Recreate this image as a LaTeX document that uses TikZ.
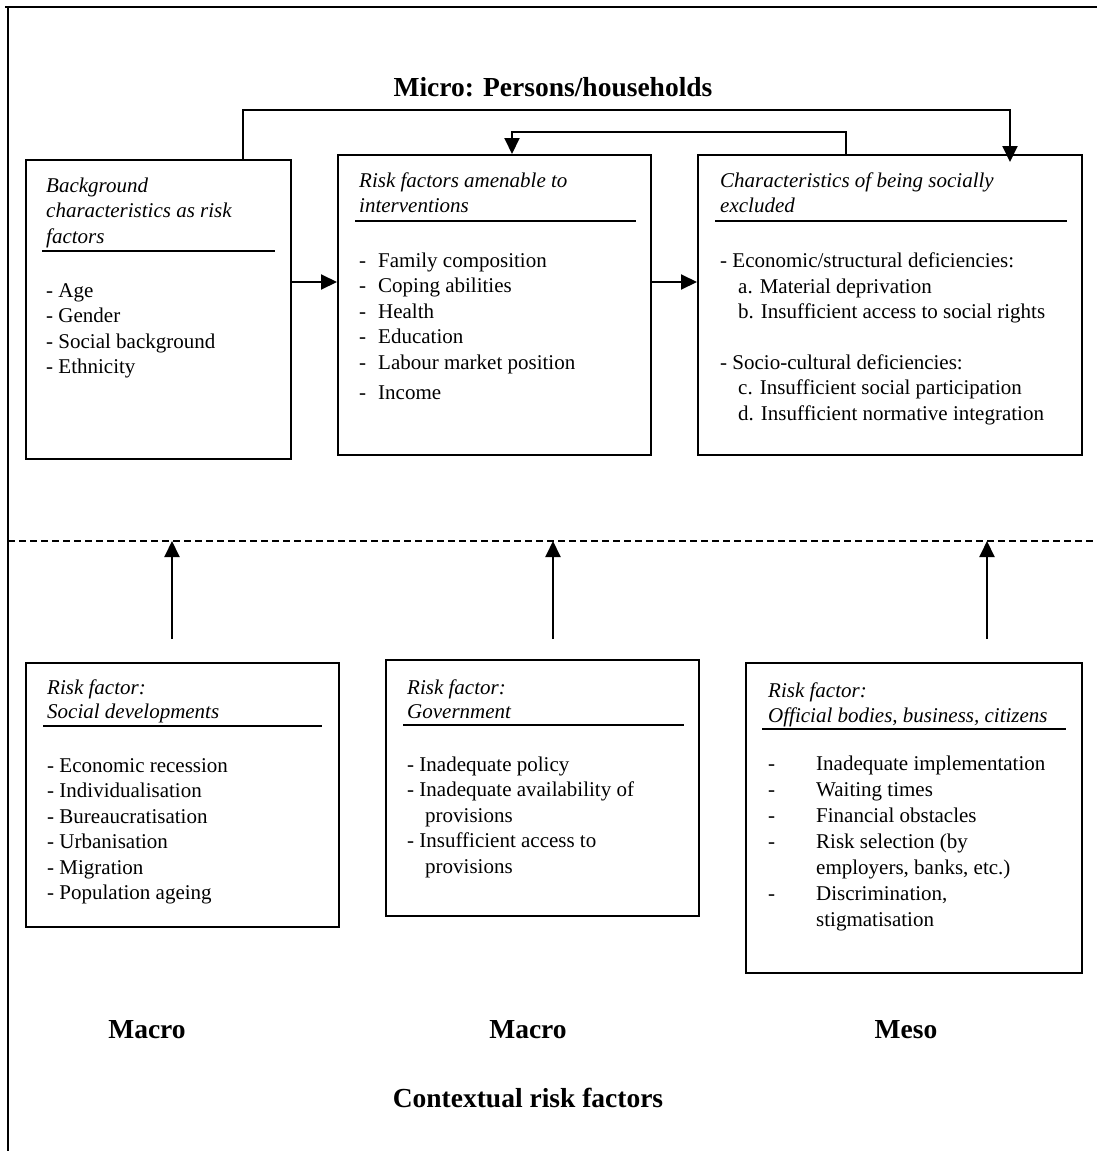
\documentclass[tikz,border=0pt]{standalone}
\usepackage{fontspec}
\setmainfont{Liberation Serif}
\usetikzlibrary{arrows.meta}
\begin{document}
\begin{tikzpicture}[x=1pt,y=-1pt,
  box/.style={draw,line width=2pt,inner sep=0pt},
  txt/.style={anchor=mid west,inner sep=0pt,yshift=-5pt,font=\fontsize{21}{25}\selectfont},
  ttl/.style={anchor=mid west,inner sep=0pt,yshift=-5pt,font=\fontsize{21}{25}\selectfont\itshape},
  hd/.style={anchor=center,inner sep=0pt,font=\fontsize{27.5}{32}\selectfont\bfseries},
  arr/.style={line width=2pt,-{Triangle[length=16pt,width=15pt]}},
  uline/.style={line width=2pt},
  frameline/.style={line width=2.4pt},
]
\useasboundingbox (0,0) rectangle (1097,1151);
% frame
\coordinate (fr1) at (5,7);
\coordinate (fr2) at (1097,7);
\coordinate (fr3) at (8,7);
\coordinate (fr4) at (8,1151);
\draw[frameline] (fr1) -- (fr2);
\draw[frameline] (fr3) -- (fr4);
% dashed separator
\coordinate (dl1) at (8,541);
\coordinate (dl2) at (1093,541);
\draw[line width=2.2pt,dash pattern=on 7pt off 4pt] (dl1) -- (dl2);

% heading
\node[hd] (micro) at (553,87) {Micro: Persons/households};

% boxes (top)
\node[box,minimum width=265pt,minimum height=299pt] (b1) at (158.5,309.5) {};
\node[box,minimum width=313pt,minimum height=300pt] (b2) at (494.5,305) {};
\node[box,minimum width=384pt,minimum height=300pt] (b3) at (890,305) {};
% boxes (bottom)
\node[box,minimum width=313pt,minimum height=264pt] (b4) at (182.5,795) {};
\node[box,minimum width=313pt,minimum height=256pt] (b5) at (542.5,788) {};
\node[box,minimum width=336pt,minimum height=310pt] (b6) at (914,818) {};

% box 1 text
\node[ttl] (t1a) at (46,185) {Background};
\node[ttl] (t1b) at (46,210.5) {characteristics as risk};
\node[ttl] (t1c) at (46,236) {factors};
\coordinate (u1a) at (42,251); \coordinate (u1b) at (275,251);
\draw[uline] (u1a) -- (u1b);
\foreach \t [count=\i] in {{- Age},{- Gender},{- Social background},{- Ethnicity}}
  \node[txt] (i1\i) at (46,{290+25.5*(\i-1)}) {\t};

% box 2 text
\node[ttl] (t2a) at (359,180) {Risk factors amenable to};
\node[ttl] (t2b) at (359,205) {interventions};
\coordinate (u2a) at (355,221); \coordinate (u2b) at (636,221);
\draw[uline] (u2a) -- (u2b);
\foreach \t [count=\i] in {{Family composition},{Coping abilities},{Health},{Education},{Labour market position}}
  \node[txt] (i2\i) at (359,{260+25.5*(\i-1)}) {\makebox[19pt][l]{-}\t};
\node[txt] (i26) at (359,392) {\makebox[19pt][l]{-}Income};

% box 3 text
\node[ttl] (t3a) at (720,180) {Characteristics of being socially};
\node[ttl] (t3b) at (720,205) {excluded};
\coordinate (u3a) at (715,221); \coordinate (u3b) at (1067,221);
\draw[uline] (u3a) -- (u3b);
\node[txt] (i31) at (720,260) {- Economic/structural deficiencies:};
\node[txt] (i32) at (738,286) {a. Material deprivation};
\node[txt] (i33) at (738,311) {b. Insufficient access to social rights};
\node[txt] (i34) at (720,362) {- Socio-cultural deficiencies:};
\node[txt] (i35) at (738,387) {c. Insufficient social participation};
\node[txt] (i36) at (738,413) {d. Insufficient normative integration};

% box 4 text
\node[ttl] (t4a) at (47,687) {Risk factor:};
\node[ttl] (t4b) at (47,711) {Social developments};
\coordinate (u4a) at (43,726); \coordinate (u4b) at (322,726);
\draw[uline] (u4a) -- (u4b);
\foreach \t [count=\i] in {{- Economic recession},{- Individualisation},{- Bureaucratisation},{- Urbanisation},{- Migration},{- Population ageing}}
  \node[txt] (i4\i) at (47,{765+25.5*(\i-1)}) {\t};

% box 5 text
\node[ttl] (t5a) at (407,687) {Risk factor:};
\node[ttl] (t5b) at (407,711) {Government};
\coordinate (u5a) at (403,725); \coordinate (u5b) at (684,725);
\draw[uline] (u5a) -- (u5b);
\node[txt] (i51) at (407,764) {- Inadequate policy};
\node[txt] (i52) at (407,789.5) {- Inadequate availability of};
\node[txt] (i53) at (425,815) {provisions};
\node[txt] (i54) at (407,840.5) {- Insufficient access to};
\node[txt] (i55) at (425,866) {provisions};

% box 6 text
\node[ttl] (t6a) at (768,690) {Risk factor:};
\node[ttl] (t6b) at (768,715) {Official bodies, business, citizens};
\coordinate (u6a) at (762,729); \coordinate (u6b) at (1066,729);
\draw[uline] (u6a) -- (u6b);
\node[txt] (i61) at (768,763) {\makebox[48pt][l]{-}Inadequate implementation};
\node[txt] (i62) at (768,789) {\makebox[48pt][l]{-}Waiting times};
\node[txt] (i63) at (768,815) {\makebox[48pt][l]{-}Financial obstacles};
\node[txt] (i64) at (768,841) {\makebox[48pt][l]{-}Risk selection (by};
\node[txt] (i65) at (816,867) {employers, banks, etc.)};
\node[txt] (i66) at (768,893) {\makebox[48pt][l]{-}Discrimination,};
\node[txt] (i67) at (816,919) {stigmatisation};

% bottom labels
\node[hd] (mac1) at (147,1030) {Macro};
\node[hd] (mac2) at (528,1030) {Macro};
\node[hd] (meso) at (906,1030) {Meso};
\node[hd] (ctx) at (528,1098) {Contextual risk factors};

% connectors
\coordinate (yrow) at (0,282);
\draw[arr] (b1.east |- yrow) -- (b2.west |- yrow);
\draw[arr] (b2.east |- yrow) -- (b3.west |- yrow);
\coordinate (tp1) at (243,110);
\coordinate (tp2) at (1010,110);
\draw[arr] (b1.north -| tp1) -- (tp1) -- (tp2) -- ([yshift=-8pt]b3.north -| tp2);
\coordinate (fb1) at (846,132);
\coordinate (fb2) at (512,132);
\draw[arr] (b3.north -| fb1) -- (fb1) -- (fb2) -- (b2.north -| fb2);
\coordinate (ua) at (172,639);
\coordinate (ub) at (553,639);
\coordinate (uc) at (987,639);
\draw[arr] (ua) -- (ua |- dl1);
\draw[arr] (ub) -- (ub |- dl1);
\draw[arr] (uc) -- (uc |- dl1);
\end{tikzpicture}
\end{document}
